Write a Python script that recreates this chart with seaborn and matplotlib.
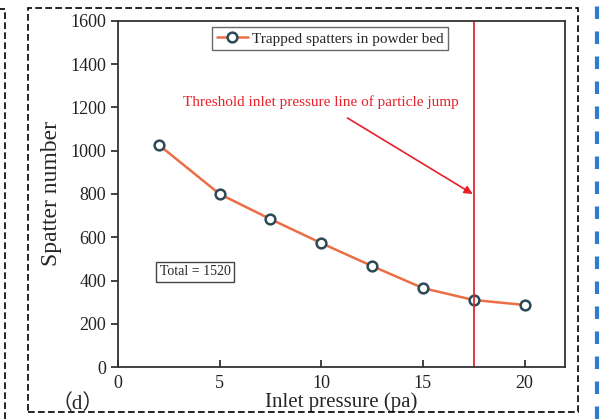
import numpy as np
import matplotlib.pyplot as plt
import seaborn as sns
import pandas as pd
from matplotlib.patches import Rectangle
from matplotlib.lines import Line2D

# data
pressure = [2, 5, 7.5, 10, 12.5, 15, 17.5, 20]
spatters = [1028, 800, 684, 573, 467, 365, 310, 287]
threshold = 17.5

sns.set_theme(style="white")
plt.rcParams['font.family'] = ['Liberation Serif', 'DejaVu Serif']

df = pd.DataFrame({"pressure": pressure, "spatters": spatters})

fig = plt.figure(figsize=(6.11, 4.19), dpi=100)
ax = fig.add_axes([0.193, 0.124, 0.732, 0.826])

sns.lineplot(data=df, x="pressure", y="spatters", ax=ax, color="#EC6E45",
             linewidth=1.8, marker="o", markersize=7, markerfacecolor="white",
             markeredgecolor="#2C4A55", markeredgewidth=1.8,
             label="Trapped spatters in powder bed")

ax.axvline(threshold, color="#E0282E", linewidth=1.3)
ax.annotate("Threshold inlet pressure line of particle jump",
            xy=(threshold - 0.05, 800), xytext=(10.0, 1225),
            color="#E8202A", fontsize=11, ha="center", va="center",
            arrowprops=dict(arrowstyle="-|>", color="#E8202A", lw=1.2,
                            mutation_scale=12, shrinkA=8, shrinkB=0))
ax.text(3.8, 440, "Total = 1520", fontsize=10, ha="center", va="center",
        bbox=dict(boxstyle="square,pad=0.25", fc="white", ec="#444444", lw=1))

ax.set_xlim(0, 22)
ax.set_ylim(0, 1600)
ax.set_xticks([0, 5, 10, 15, 20])
ax.set_yticks(np.arange(0, 1601, 200))
ax.tick_params(axis="x", bottom=True, direction="in", length=5, width=1.2,
               labelsize=13, pad=6, colors="#222222")
ax.tick_params(axis="y", left=True, direction="out", length=5, width=1.2,
               labelsize=13, colors="#222222")
for s in ax.spines.values():
    s.set_color("#333333")
    s.set_linewidth(1.3)
ax.set_xlabel("Inlet pressure (pa)", fontsize=15, labelpad=0)
ax.set_ylabel("Spatter number", fontsize=17, labelpad=6)

leg = ax.legend(loc="upper center", bbox_to_anchor=(0.475, 0.995), fontsize=11,
                frameon=True, fancybox=False, handlelength=2.0, borderpad=0.3,
                handletextpad=0.3, borderaxespad=0.3)
leg.get_frame().set_edgecolor("#444444")
leg.get_frame().set_linewidth(1.0)

fig.text(0.127, 0.036, "（d）", fontsize=15, ha="center", va="center",
         family=['Liberation Serif', 'Noto Sans CJK SC'])

# dashed panel frames
fig.patches.append(Rectangle((28 / 611, 7 / 419), 550 / 611, 404 / 419,
                             transform=fig.transFigure, fill=False,
                             ls=(0, (4, 2)), lw=1.2, ec="black"))
fig.lines.append(Line2D([5 / 611, 5 / 611], [0, 410 / 419], transform=fig.transFigure,
                        ls=(0, (4, 2)), lw=1.2, color="black"))
fig.lines.append(Line2D([0, 5 / 611], [410 / 419, 410 / 419], transform=fig.transFigure,
                        ls=(0, (4, 2)), lw=1.2, color="black"))
fig.lines.append(Line2D([597 / 611, 597 / 611], [0, 1], transform=fig.transFigure,
                        ls=(0, (3, 3)), lw=3, color="#2E7BCF"))

fig.savefig("out.png", dpi=100)
